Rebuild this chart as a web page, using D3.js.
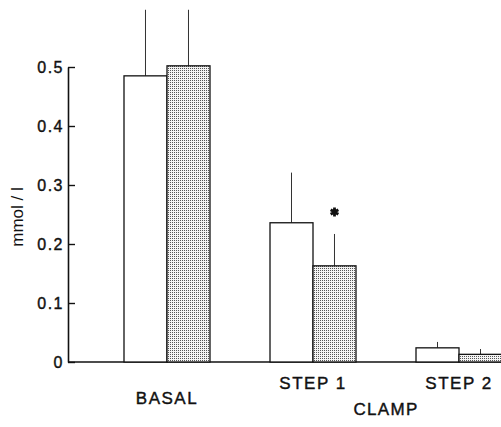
<!DOCTYPE html>
<html>
<head>
<meta charset="utf-8">
<script src="https://cdnjs.cloudflare.com/ajax/libs/d3/7.8.5/d3.min.js"></script>
<title>mmol/l</title>
<style>
  body{ margin: 0; background-color: #fff; }
  text{ font-family: "Liberation Sans", Arial, sans-serif; fill: #111; }
</style>
</head>
<body>
<script>
var categories = ["BASAL", "STEP 1", "STEP 2"],
    series     = ["control", "treated"],
    means      = [[0.485, 0.502], [0.236, 0.163], [0.024, 0.013]],
    errors     = [[0.112, 0.095], [0.085, 0.054], [0.010, 0.009]],
    marks      = [[false, false], [false, true], [false, false]],
    yTicks     = [0, 0.1, 0.2, 0.3, 0.4, 0.5];

var w = 501, h = 427;

var svg = d3.select("body").append("svg")
    .attr("width", w)
    .attr("height", h);

// dot screen fill for the second series
var pat = svg.append("defs").append("pattern")
    .attr("id", "dots")
    .attr("width", 2).attr("height", 2)
    .attr("patternUnits", "userSpaceOnUse");
pat.append("rect").attr("width", 2).attr("height", 2).attr("fill", "#f4f4f4");
pat.append("rect").attr("width", 1).attr("height", 1).attr("fill", "#555");

var y = d3.scaleLinear().domain([0, 0.5]).range([362, 67]);

var x0 = d3.scaleBand()
    .domain(categories)
    .range([94.8, 531.2])
    .paddingInner(0.411)
    .paddingOuter(0.2);

var x1 = d3.scaleBand()
    .domain(series)
    .range([0, x0.bandwidth()]);

// baseline
svg.append("line")
    .attr("x1", 68).attr("x2", w)
    .attr("y1", y(0)).attr("y2", y(0))
    .attr("stroke", "#111").attr("stroke-width", 1.5);

var groups = svg.selectAll("g.grp")
  .data(categories)
  .enter().append("g")
    .attr("class", "grp")
    .attr("transform", function(d){ return "translate(" + x0(d) + ",0)"; });

var star = d3.symbol().type(d3.symbolAsterisk).size(55);

groups.each(function(c, i){
  var g = d3.select(this);
  var rows = series.map(function(s, j){
    return { s: s, v: means[i][j], e: errors[i][j], m: marks[i][j] };
  });

  // error bars (upper only)
  g.selectAll("line.err")
    .data(rows)
    .enter().append("line")
      .attr("class", "err")
      .attr("x1", function(d){ return x1(d.s) + x1.bandwidth()/2; })
      .attr("x2", function(d){ return x1(d.s) + x1.bandwidth()/2; })
      .attr("y1", function(d){ return y(d.v); })
      .attr("y2", function(d){ return y(d.v + d.e); })
      .attr("stroke", "#333").attr("stroke-width", 1);

  g.selectAll("rect")
    .data(rows)
    .enter().append("rect")
      .attr("x", function(d){ return x1(d.s); })
      .attr("y", function(d){ return y(d.v); })
      .attr("width", x1.bandwidth())
      .attr("height", function(d){ return y(0) - y(d.v); })
      .attr("fill", function(d){ return d.s === "treated" ? "url(#dots)" : "#fff"; })
      .attr("stroke", "#111")
      .attr("stroke-width", 1.3);

  g.selectAll("path.star")
    .data(rows.filter(function(d){ return d.m; }))
    .enter().append("path")
      .attr("class", "star")
      .attr("d", star)
      .attr("transform", function(d){
        return "translate(" + (x1(d.s) + x1.bandwidth()/2) + "," + (y(d.v + d.e) - 22) + ")";
      })
      .attr("fill", "none")
      .attr("stroke", "#111")
      .attr("stroke-width", 2.8);
});

// y axis, ticks pointing inward
var yAxis = d3.axisLeft(y)
    .tickValues(yTicks)
    .tickSizeInner(-7)
    .tickSizeOuter(0)
    .tickPadding(4)
    .tickFormat(function(d){ return d === 0 ? "0" : d3.format(".1f")(d); });

var ax = svg.append("g")
    .attr("transform", "translate(68,0)")
    .call(yAxis);
ax.select(".domain").attr("stroke", "#111").attr("stroke-width", 1.6);
ax.selectAll(".tick line").attr("stroke", "#111").attr("stroke-width", 1.4);
ax.selectAll(".tick text")
    .attr("fill", "#111")
    .style("font-size", "16px")
    .style("letter-spacing", "1.5px")
    .style("font-family", "'Liberation Sans', Arial, sans-serif")
    .attr("stroke", "#111").attr("stroke-width", 0.4);

// category labels
var labelY = { "BASAL": 404, "STEP 1": 389, "STEP 2": 389 };
svg.selectAll("text.cat")
  .data(categories)
  .enter().append("text")
    .attr("class", "cat")
    .attr("x", function(d){ return x0(d) + x0.bandwidth()/2; })
    .attr("y", function(d){ return labelY[d]; })
    .attr("text-anchor", "middle")
    .style("font-size", "17px")
    .style("letter-spacing", "1.5px")
    .attr("stroke", "#111").attr("stroke-width", 0.4)
    .text(function(d){ return d; });

svg.append("text")
    .attr("x", 386).attr("y", 415)
    .attr("text-anchor", "middle")
    .style("font-size", "17px")
    .style("letter-spacing", "1.3px")
    .attr("stroke", "#111").attr("stroke-width", 0.4)
    .text("CLAMP");

svg.append("text")
    .attr("transform", "translate(23,217) rotate(-90)")
    .attr("text-anchor", "middle")
    .style("font-size", "17px")
    .text("mmol / l");
</script>
</body>
</html>
